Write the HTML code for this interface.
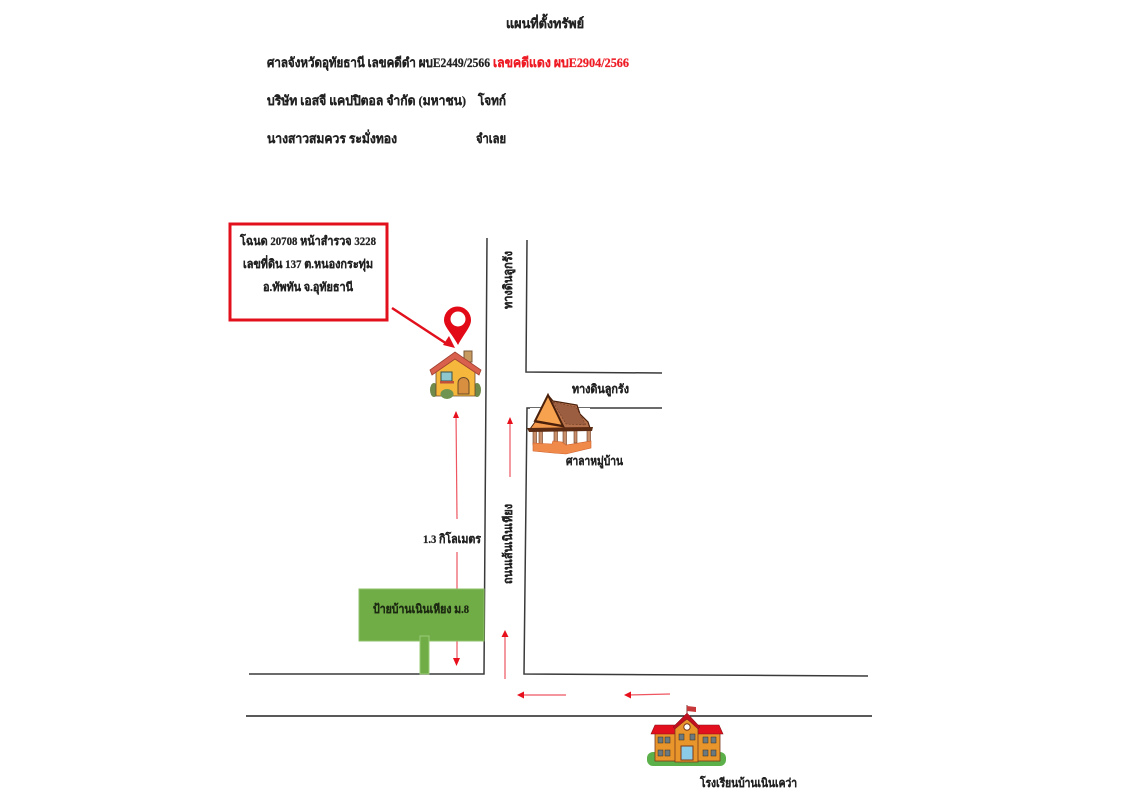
<!DOCTYPE html>
<html><head><meta charset="utf-8"><style>
html,body{margin:0;padding:0;background:#fff;width:1140px;height:800px;overflow:hidden}
svg{display:block;filter:blur(0.35px)}
text{font-family:"Liberation Serif","Noto Serif CJK SC",serif;font-weight:bold;fill:#222;font-size:13px;stroke:#222;stroke-width:0.25px}
</style></head><body>
<svg width="1140" height="800" viewBox="0 0 1140 800" xmlns="http://www.w3.org/2000/svg">
<!-- header -->
<text x="506" y="28" textLength="78" lengthAdjust="spacingAndGlyphs">แผนที่ตั้งทรัพย์</text>
<text x="267" y="67" textLength="223" lengthAdjust="spacingAndGlyphs">ศาลจังหวัดอุทัยธานี เลขคดีดำ ผบE2449/2566</text>
<text x="493" y="67" textLength="136" lengthAdjust="spacingAndGlyphs" style="fill:#ee1c25;stroke:#ee1c25">เลขคดีแดง ผบE2904/2566</text>
<text x="267" y="105" textLength="199" lengthAdjust="spacingAndGlyphs">บริษัท เอสจี แคปปิตอล จำกัด (มหาชน)</text>
<text x="478" y="105" textLength="28" lengthAdjust="spacingAndGlyphs">โจทก์</text>
<text x="267" y="143" textLength="130" lengthAdjust="spacingAndGlyphs">นางสาวสมควร ระมั่งทอง</text>
<text x="476" y="143" textLength="30" lengthAdjust="spacingAndGlyphs">จำเลย</text>
<!-- callout -->
<rect x="230" y="224" width="157" height="96" fill="#fff" stroke="#e2101c" stroke-width="3"/>
<text x="240" y="245" textLength="136" lengthAdjust="spacingAndGlyphs" style="font-size:12px">โฉนด  20708 หน้าสำรวจ 3228</text>
<text x="243" y="268" textLength="130" lengthAdjust="spacingAndGlyphs" style="font-size:12px">เลขที่ดิน 137 ต.หนองกระทุ่ม</text>
<text x="263" y="291" textLength="90" lengthAdjust="spacingAndGlyphs" style="font-size:12px">อ.ทัพทัน จ.อุทัยธานี</text>
<line x1="392" y1="308" x2="447" y2="344" stroke="#e2101c" stroke-width="2.5"/>
<path d="M455 348L443 345L449 336z" fill="#e2101c"/>
<!-- roads -->
<g fill="none" stroke="#3a3a3a" stroke-width="1.5">
<path d="M487 238L484 674L249 674"/>
<path d="M527 240L526 372L662 373"/>
<path d="M662 408L527 408L524 674L868 676"/>
</g>
<line x1="246" y1="716" x2="872" y2="716" stroke="#222" stroke-width="1.5"/>
<!-- pin -->
<path d="M458 345C451 332 444 327 444 320A13.5 13.5 0 0 1 471 320C471 327 465 332 458 345z" fill="#e30a17"/>
<circle cx="458" cy="319" r="7.5" fill="#fff"/>
<!-- house -->
<g>
<ellipse cx="434" cy="390" rx="4" ry="7" fill="#6f8a4a"/>
<ellipse cx="477" cy="390" rx="4" ry="7" fill="#6f8a4a"/>
<rect x="464" y="351" width="8" height="11" fill="#c79a60" stroke="#7a5a3a"/>
<path d="M436 369L455 355L475 369V396H436z" fill="#f5b73c" stroke="#6b4a2a" stroke-width="0.8"/>
<path d="M430 370L455 352L481 370L479 375L455 359L432 375z" fill="#d8604c" stroke="#a04030" stroke-width="0.8"/>
<rect x="441" y="372" width="11" height="9" fill="#8fc7cf" stroke="#35504a"/>
<rect x="440" y="381" width="14" height="2.5" fill="#c0503a"/>
<path d="M458 394V383A5.5 5.5 0 0 1 469 383V394z" fill="#d89040" stroke="#6b4a2a"/>
<ellipse cx="447" cy="394" rx="6.5" ry="5" fill="#6f9350"/>
</g>
<!-- temple pavilion -->
<g>
<rect x="530" y="408" width="60" height="46" fill="#fff"/>
<g fill="#c98e6a" stroke="#6d3a20" stroke-width="0.6">
<rect x="533" y="430" width="3.5" height="15"/><rect x="539" y="430" width="3.5" height="15"/><rect x="554" y="430" width="3.5" height="15"/><rect x="563" y="430" width="3.5" height="15"/><rect x="574" y="430" width="3" height="13"/><rect x="587" y="430" width="3.5" height="12"/>
</g>
<path d="M533 443L552 444L553 441L562 442L566 445L591 441V448L566 454L553 453L533 451z" fill="#f08a4a" stroke="#d0602c" stroke-width="0.6"/>
<path d="M548 395L553 401L577 405L580 414L588 422L590 428L563 428z" fill="#b5714c" stroke="#4a200c" stroke-width="1.2"/>
<path d="M553 402L576 407L586 425L566 424z" fill="#9c5e40" stroke="#4a200c" stroke-width="0.4" stroke-dasharray="2 1.5"/>
<path d="M548 395L563 426L535 421z" fill="#f7a24e" stroke="#4a200c" stroke-width="2"/>
<path d="M535 422L564 427L565 429L530 429z" fill="#f59a4c" stroke="#4a200c" stroke-width="1"/>
<path d="M527 428L593 427L592 431L529 432z" fill="#5a2a12"/>
</g>
<!-- labels -->
<text x="566" y="465" textLength="57" lengthAdjust="spacingAndGlyphs" style="font-size:12px">ศาลาหมู่บ้าน</text>
<text x="572" y="393" textLength="57" lengthAdjust="spacingAndGlyphs" style="font-size:12px">ทางดินลูกรัง</text>
<text transform="translate(512,309) rotate(-90)" textLength="58" lengthAdjust="spacingAndGlyphs" style="font-size:12px">ทางดินลูกรัง</text>
<text transform="translate(512,584) rotate(-90)" textLength="80" lengthAdjust="spacingAndGlyphs" style="font-size:12px">ถนนเส้นเนินเหียง</text>
<!-- red arrows -->
<g fill="none" stroke="#ee5560" stroke-width="1.2">
<line x1="456" y1="412" x2="457" y2="519"/>
<line x1="457" y1="552" x2="457" y2="660"/>
<line x1="510" y1="477" x2="510" y2="420"/>
<line x1="505" y1="679" x2="505" y2="632"/>
<line x1="566" y1="695" x2="520" y2="695"/>
<line x1="670" y1="694" x2="628" y2="695"/>
</g>
<g fill="#e8101c">
<path d="M456 411L453 418H459z"/>
<path d="M456.500 666L453 658H460z"/>
<path d="M510 417L507 424H513z"/>
<path d="M505 630L501.500 637H508.500z"/>
<path d="M517 695L524 691.500V698.500z"/>
<path d="M624 695L631 691.500V698.500z"/>
</g>
<text x="423" y="543" textLength="58" lengthAdjust="spacingAndGlyphs" style="font-size:12px">1.3 กิโลเมตร</text>
<!-- sign -->
<rect x="359" y="589" width="125" height="52" fill="#70ad47" stroke="#8cc068"/>
<rect x="420" y="636" width="9" height="38" fill="#70ad47" stroke="#9acb78"/>
<text x="373" y="613" textLength="96" lengthAdjust="spacingAndGlyphs" style="font-size:12px;fill:#1d2a12;stroke:#1d2a12">ป้ายบ้านเนินเหียง ม.8</text>
<!-- school -->
<g>
<rect x="647" y="752" width="79" height="14" rx="6" fill="#5cb04a"/>
<path d="M687 714V705" stroke="#7a3a30" stroke-width="1"/>
<path d="M687 706L696 707V712L687 711z" fill="#c8383a"/>
<rect x="655" y="733" width="65" height="28" fill="#e8962c" stroke="#7a3a1a" stroke-width="0.8"/>
<path d="M651 734L655 725H719L723 734z" fill="#e20f1e" stroke="#8a1018" stroke-width="0.6"/>
<path d="M675 727L687 719L698 727V762H675z" fill="#e8962c" stroke="#7a3a1a" stroke-width="0.8"/>
<path d="M673 727L687 713L700 727L698 729L687 719L675 729z" fill="#c01020" stroke="#7a1018" stroke-width="0.5"/>
<circle cx="687" cy="727" r="3.2" fill="#fff" stroke="#7a3a1a"/>
<rect x="681" y="746" width="12" height="14" fill="#8ccbe8" stroke="#7a3a1a"/>
<g fill="#6a7a80" stroke="#3a2a20" stroke-width="0.5">
<rect x="658" y="737" width="5" height="6"/><rect x="665" y="737" width="5" height="6"/><rect x="658" y="750" width="5" height="6"/><rect x="665" y="750" width="5" height="6"/>
<rect x="679" y="734" width="5" height="6"/><rect x="690" y="734" width="5" height="6"/>
<rect x="703" y="737" width="5" height="6"/><rect x="711" y="737" width="5" height="6"/><rect x="703" y="750" width="5" height="6"/><rect x="711" y="750" width="5" height="6"/>
</g>
</g>
<text x="700" y="787" textLength="97" lengthAdjust="spacingAndGlyphs" style="font-size:12px">โรงเรียนบ้านเนินเคว่า</text>
</svg>
</body></html>
